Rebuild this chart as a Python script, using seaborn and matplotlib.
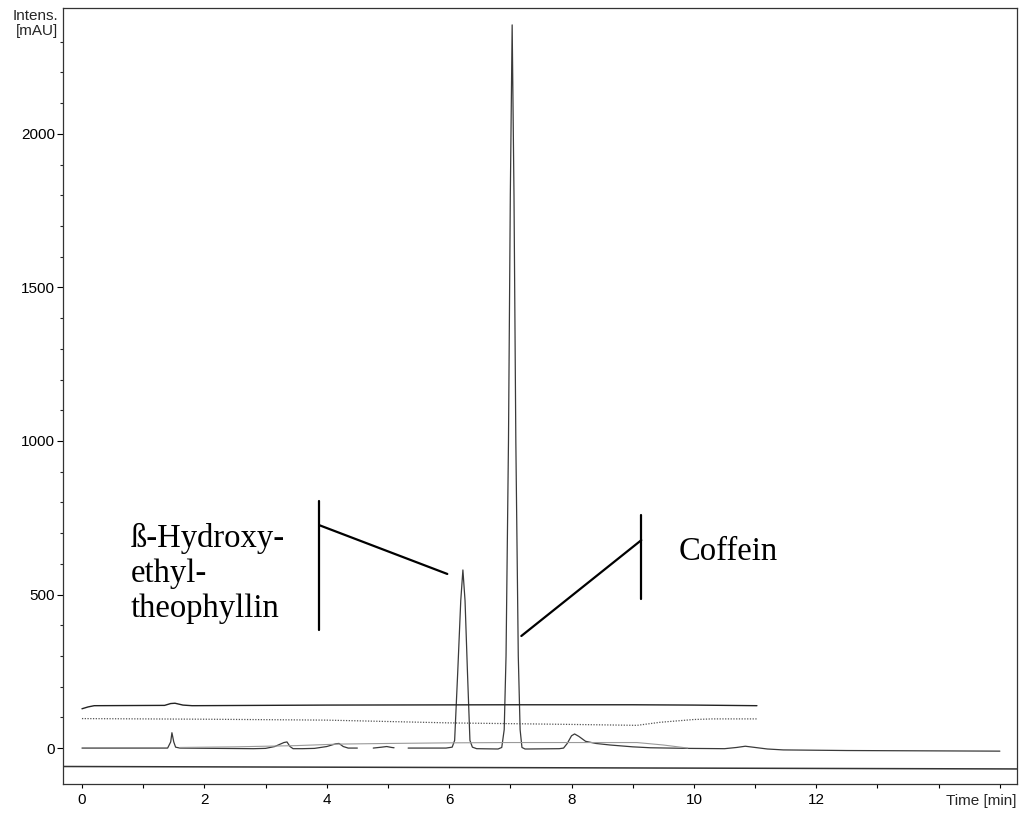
import numpy as np
import pandas as pd
import matplotlib
matplotlib.use("Agg")
import matplotlib.pyplot as plt
import seaborn as sns

# ---------------- data ----------------
# main chromatogram (mAU vs. min); segments model the scan gaps
main_seg = [0]*23 + [1]*5 + [2]*46
main_t = [0.0, 1.40, 1.45, 1.47, 1.50, 1.53, 1.60, 2.2, 2.8, 3.0, 3.15, 3.30, 3.35,
          3.40, 3.45, 3.6, 3.8, 4.0, 4.15, 4.20, 4.27, 4.35, 4.50,
          4.76, 4.90, 4.98, 5.06, 5.10,
          5.33, 5.95, 6.05, 6.09, 6.14, 6.19, 6.225, 6.26, 6.30, 6.34, 6.38, 6.45,
          6.80, 6.86, 6.90, 6.93, 6.97, 7.00, 7.03, 7.06, 7.09, 7.13, 7.16, 7.19, 7.24,
          7.30, 7.80, 7.87, 7.93, 8.00, 8.05, 8.12, 8.23, 8.40, 8.63, 9.00, 9.29, 9.90,
          10.50, 10.70, 10.84, 11.00, 11.20, 11.46, 12.50, 15.0]
main_y = [0, 0, 20, 50, 20, 3, 0, -1, -2, -1, 5, 18, 20,
          5, -2, -2, -1, 5, 14, 15, 5, 0, 0,
          0, 3, 5, 2, 1,
          0, 0, 3, 25, 245, 480, 580, 480, 245, 25, 3, -2,
          -3, 2, 60, 300, 1000, 1800, 2355, 1800, 1000, 300, 60, 2, -3,
          -3, -2, 0, 15, 40, 46, 38, 22, 15, 10, 4, 1, -1,
          -2, 2, 6, 2, -3, -6, -8, -10]

# faint second chromatogram
trace4_t = [1.6, 2.5, 3.5, 4.2, 5.0, 6.0, 7.0, 8.0, 9.07, 9.5, 9.9]
trace4_y = [2, 4, 8, 13, 15, 17, 18, 18, 18, 10, 0]

# dotted trace
dotted_t = [0.0, 2.0, 4.0, 6.0, 8.0, 9.07, 9.45, 10.0, 10.3, 11.03]
dotted_y = [96, 94, 91, 82, 77, 74, 84, 93, 95, 95]

# upper solid trace
upper_t = [0.0, 0.1, 0.2, 1.35, 1.45, 1.52, 1.65, 1.8, 4.0, 7.0, 9.0, 10.0, 11.03]
upper_y = [128, 134, 138, 139, 145, 146, 140, 138, 140, 141, 141, 140, 138]

# lower flat trace
lower_t = [-0.31, 15.28]
lower_y = [-60, -68]

x_ticks = [0, 2, 4, 6, 8, 10, 12, 14]
x_labels = ["0", "2", "4", "6", "8", "10", "12", ""]
y_ticks = [0, 500, 1000, 1500, 2000]
y_labels = ["0", "500", "1000", "1500", "2000"]

# ---------------- figure ----------------
sns.set_style("ticks")
plt.rcParams["font.family"] = ["Liberation Sans", "DejaVu Sans"]

fig = plt.figure(figsize=(10.24, 8.13), dpi=100)
ax = fig.add_axes([63/1024, 1-784/813, (1017-63)/1024, (784-8)/813])

df_main = pd.DataFrame({"t": main_t, "y": main_y, "seg": main_seg})
sns.lineplot(data=df_main, x="t", y="y", units="seg", estimator=None, sort=False,
             color="#3a3a3a", lw=0.9, ax=ax)
sns.lineplot(x=trace4_t, y=trace4_y, color="#9a9a9a", lw=0.8, ax=ax, sort=False)
sns.lineplot(x=dotted_t, y=dotted_y, color="#555555", lw=0.9, ls=(0, (1, 1.2)), ax=ax, sort=False)
sns.lineplot(x=upper_t, y=upper_y, color="#222222", lw=1.0, ax=ax, sort=False)
sns.lineplot(x=lower_t, y=lower_y, color="#333333", lw=1.1, ax=ax, sort=False)

ax.set_xlim(-0.31, 15.28)
ax.set_ylim(-117, 2410)

ax.set_xticks(x_ticks)
ax.set_xticklabels(x_labels)
ax.set_xticks(range(1, 16, 2), minor=True)
ax.set_yticks(y_ticks)
ax.set_yticklabels(y_labels)
ax.set_yticks([v for v in range(100, 2400, 100) if v % 500], minor=True)

ax.tick_params(axis="x", which="both", direction="out", length=3, width=0.8,
               labelsize=11, pad=3.5, colors="black")
ax.tick_params(axis="y", which="major", direction="out", length=4.3, width=0.8,
               labelsize=11, pad=1.5, colors="black")
ax.tick_params(axis="y", which="minor", direction="out", length=2.2, width=0.8)
for s in ax.spines.values():
    s.set_visible(True)
    s.set_color("#333333")
    s.set_linewidth(0.9)
ax.set_xlabel("")
ax.set_ylabel("")

# axis captions
fig.text(58/1024, 1-20/813, "Intens.", ha="right", va="baseline", fontsize=11)
fig.text(58/1024, 1-35/813, "[mAU]", ha="right", va="baseline", fontsize=11)
fig.text(1017/1024, 1-805/813, "Time [min]", ha="right", va="baseline", fontsize=11)

# annotations
serif = ["Liberation Serif", "DejaVu Serif"]
ax.text(0.80, 427, "ß-Hydroxy-\nethyl-\ntheophyllin", family=serif, fontsize=23.5,
        ha="left", va="baseline", linespacing=1.2, color="black")
ax.text(9.75, 612, "Coffein", family=serif, fontsize=23.5, ha="left", va="baseline",
        color="black")
ax.plot([3.876, 3.876], [805, 384], color="black", lw=1.6)
ax.plot([3.876, 5.97], [726, 567], color="black", lw=1.6)
ax.plot([9.14, 9.14], [759, 485], color="black", lw=1.6)
ax.plot([9.14, 7.18], [677, 365], color="black", lw=1.6)

fig.savefig("out.png", dpi=100)
